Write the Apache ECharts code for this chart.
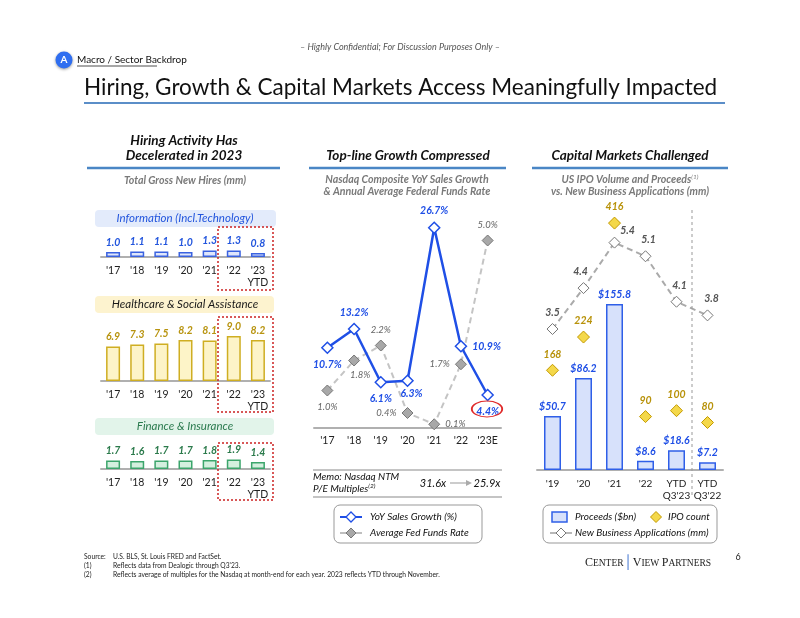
<!DOCTYPE html>
<html><head><meta charset="utf-8">
<script src="https://cdn.jsdelivr.net/npm/echarts@6/dist/echarts.min.js"></script>
<style>html,body{margin:0;padding:0;background:#fff}#c{width:800px;height:618px}</style>
</head><body><div id="c"></div>
<script>
// ---------- DATA ----------
const hireYears = ["'17", "'18", "'19", "'20", "'21", "'22", "'23\nYTD"];
const infoHires = [1.0, 1.1, 1.1, 1.0, 1.3, 1.3, 0.8];
const healthHires = [6.9, 7.3, 7.5, 8.2, 8.1, 9.0, 8.2];
const financeHires = [1.7, 1.6, 1.7, 1.7, 1.8, 1.9, 1.4];

const growthYears = ["'17", "'18", "'19", "'20", "'21", "'22", "'23E"];
const salesGrowth = [10.7, 13.2, 6.1, 6.3, 26.7, 10.9, 4.4];
const fedFunds = [1.0, 1.8, 2.2, 0.4, 0.1, 1.7, 5.0];
const peMultiples = ['31.6x', '25.9x'];

const ipoYears = ["'19", "'20", "'21", "'22", "YTD\nQ3'23", "YTD\nQ3'22"];
const ipoProceeds = [50.7, 86.2, 155.8, 8.6, 18.6, 7.2];
const ipoCount = [168, 224, 416, 90, 100, 80];
const newBizApps = [3.5, 4.4, 5.4, 5.1, 4.1, 3.8];

// ---------- STYLE ----------
const F = 'Lato, "Open Sans", sans-serif';
const BLUE = '#1f4fe6';
const chart = echarts.init(document.getElementById('c'), null, {renderer: 'canvas'});

function T(x, y, text, o) {
  o = o || {};
  return {type: 'text', x: x, y: y, z: 50, style: Object.assign({
    text: text, fontFamily: F, fontSize: 10, fill: '#222',
    textAlign: 'left', textVerticalAlign: 'middle'
  }, o)};
}
function L(x1, y1, x2, y2, st) {
  return {type: 'line', z: 40, shape: {x1: x1, y1: y1, x2: x2, y2: y2},
    style: Object.assign({stroke: '#999', lineWidth: 1}, st)};
}
function R(x, y, w, h, st, r) {
  return {type: 'rect', z: 30, shape: {x: x, y: y, width: w, height: h, r: r || 0}, style: st};
}
function D(cx, cy, s, st) {
  return {type: 'polygon', z: 45, shape: {points: [[cx, cy - s], [cx + s, cy], [cx, cy + s], [cx - s, cy]]}, style: st};
}

const xCat = (data, gi, margin, fs) => ({
  type: 'category', gridIndex: gi, data: data,
  axisLine: {lineStyle: {color: '#b0b0b0', width: 2}},
  axisTick: {show: false},
  axisLabel: {fontFamily: F, fontSize: fs || 10.5, color: '#222', margin: margin, lineHeight: 12, interval: 0}
});
const yHid = (gi, min, max) => ({type: 'value', gridIndex: gi, min: min, max: max, show: false});

const hireBar = (data, gi, fill, border, lab) => ({
  type: 'bar', xAxisIndex: gi, yAxisIndex: gi, data: data, barWidth: 14,
  itemStyle: {color: fill, borderColor: border, borderWidth: 1.5},
  label: {show: true, position: 'top', distance: 4, color: lab, fontFamily: F,
    fontSize: 10.5, fontWeight: 'bold', fontStyle: 'italic',
    formatter: p => p.value.toFixed(1)}
});

const LB = (pos, off) => ({position: pos, offset: off || [0, 0]});
const salesLab = [LB('bottom'), LB('top'), LB('bottom'), LB('bottom', [4, -4]), LB('top'), LB('right'), LB('bottom')];
const fedLab = [LB('bottom'), LB('bottom', [6, -2]), LB('top'), LB('left'), LB('right'), LB('left'), LB('top')];
const appsLab = [LB('top'), LB('top', [-3, 0]), LB('top', [13, 4]), LB('top', [3, 0]), LB('top', [3, 0]), LB('top', [4, 0])];

const g = [];
// header
g.push(T(400, 47, '– Highly Confidential; For Discussion Purposes Only –', {fontSize: 9, fontStyle: 'italic', fill: '#555', textAlign: 'center'}));
g.push({type: 'circle', z: 50, shape: {cx: 64, cy: 60, r: 8.5}, style: {fill: '#2f6ef0', shadowBlur: 3, shadowColor: 'rgba(0,0,0,0.4)', shadowOffsetY: 1}});
g.push(T(64, 60, 'A', {fontSize: 10, fontWeight: 'bold', fill: '#fff', textAlign: 'center'}));
g.push(T(77, 60, 'Macro / Sector Backdrop', {fontSize: 10, fill: '#111'}));
g.push(L(77, 66, 157, 66, {stroke: '#222', lineWidth: 0.8}));
g.push(T(84, 88, 'Hiring, Growth & Capital Markets Access Meaningfully Impacted', {fontSize: 22.5, fill: '#111'}));
g.push(L(84, 103, 725, 103, {stroke: '#5b8ec8', lineWidth: 2}));

// panel headings
const head = {fontSize: 13.5, fontWeight: 'bold', fontStyle: 'italic', fill: '#111', textAlign: 'center'};
const sub = {fontSize: 10.6, fontWeight: 'bold', fontStyle: 'italic', fill: '#7a7a7a', textAlign: 'center'};
g.push(T(184, 141, 'Hiring Activity Has', head));
g.push(T(184, 156, 'Decelerated in 2023', head));
g.push(L(87, 168, 280, 168, {stroke: '#4a86c5', lineWidth: 2.5}));
g.push(T(185, 181, 'Total Gross New Hires (mm)', sub));

g.push(T(408, 156, 'Top-line Growth Compressed', head));
g.push(L(309, 168, 506, 168, {stroke: '#4a86c5', lineWidth: 2.5}));
g.push(T(407, 180, 'Nasdaq Composite YoY Sales Growth', sub));
g.push(T(407, 192, '& Annual Average Federal Funds Rate', sub));

g.push(T(630, 156, 'Capital Markets Challenged', head));
g.push(L(532, 168, 728, 168, {stroke: '#4a86c5', lineWidth: 2.5}));
g.push(T(630, 180, '{a|US IPO Volume and Proceeds}{s|(1)}', Object.assign({}, sub, {rich: {
  a: {fontFamily: F, fontSize: 10.6, fontWeight: 'bold', fontStyle: 'italic', fill: '#7a7a7a'},
  s: {fontFamily: F, fontSize: 6.5, fontStyle: 'italic', fill: '#7a7a7a', padding: [0, 0, 6, 0]}}})));
g.push(T(630, 192, 'vs. New Business Applications (mm)', sub));

// hiring section boxes
g.push(R(95, 210, 181, 17, {fill: '#e3ebfb'}, 4));
g.push(T(185, 218.5, 'Information (Incl.Technology)', {fontSize: 11.5, fontStyle: 'italic', fill: '#2255dd', textAlign: 'center'}));
g.push(R(95, 296, 179, 17, {fill: '#fdf3cf'}, 4));
g.push(T(185, 304.5, 'Healthcare & Social Assistance', {fontSize: 11.5, fontStyle: 'italic', fill: '#1a1a1a', textAlign: 'center'}));
g.push(R(95, 418, 179, 17, {fill: '#e2f4ea'}, 4));
g.push(T(185, 426.5, 'Finance & Insurance', {fontSize: 11.5, fontStyle: 'italic', fill: '#2a7a4e', textAlign: 'center'}));
const redBox = {fill: 'none', stroke: '#cc2222', lineWidth: 1.5, lineDash: [2, 2]};
g.push(R(218, 227, 55, 63, redBox));
g.push(R(218, 317, 55, 95, redBox));
g.push(R(218, 443, 55, 57, redBox));

// red ellipse around latest growth value
g.push({type: 'circle', z: 50, x: 487, y: 409, scaleX: 1.9, shape: {cx: 0, cy: 0, r: 8}, style: {fill: 'none', stroke: '#e02a2a', lineWidth: 1}});

// memo
g.push(L(313, 470, 502, 470, {stroke: '#b0b0b0', lineWidth: 1.5}));
g.push(L(313, 497, 502, 497, {stroke: '#b0b0b0', lineWidth: 1.5}));
g.push(T(313, 477, 'Memo: Nasdaq NTM', {fontSize: 10, fontStyle: 'italic', fill: '#111'}));
g.push(T(313, 489, '{a|P/E Multiples}{s|(2)}', {fontSize: 10, fontStyle: 'italic', fill: '#111', rich: {
  a: {fontFamily: F, fontSize: 10, fontStyle: 'italic', fill: '#111'},
  s: {fontFamily: F, fontSize: 6.5, fontStyle: 'italic', fill: '#111', padding: [0, 0, 6, 0]}}}));
g.push(T(433, 483, peMultiples[0], {fontSize: 11, fontStyle: 'italic', fill: '#111', textAlign: 'center'}));
g.push(L(450, 483, 466, 483, {stroke: '#aaa', lineWidth: 1.2}));
g.push({type: 'polygon', z: 45, shape: {points: [[466, 480], [472, 483], [466, 486]]}, style: {fill: '#aaa'}});
g.push(T(487, 483, peMultiples[1], {fontSize: 11, fontStyle: 'italic', fill: '#111', textAlign: 'center'}));

// legend middle
g.push(R(334, 505, 148, 38, {fill: '#fff', stroke: '#999', lineWidth: 1}, 6));
g.push(L(340, 517, 362, 517, {stroke: BLUE, lineWidth: 2}));
g.push(D(351, 517, 5, {fill: '#fff', stroke: BLUE, lineWidth: 1.3}));
g.push(T(370, 517, 'YoY Sales Growth (%)', {fontSize: 10, fontStyle: 'italic', fill: '#111'}));
g.push(L(340, 533, 362, 533, {stroke: '#aaa', lineWidth: 1.5}));
g.push(D(351, 533, 5, {fill: '#a8a8a8', stroke: '#777', lineWidth: 1}));
g.push(T(370, 533, 'Average Fed Funds Rate', {fontSize: 10, fontStyle: 'italic', fill: '#111'}));

// legend right
g.push(R(543, 505, 174, 38, {fill: '#fff', stroke: '#999', lineWidth: 1}, 6));
g.push(R(552, 512, 15, 10, {fill: '#d7e1fb', stroke: '#2f5fe8', lineWidth: 1.5}));
g.push(T(575, 517, 'Proceeds ($bn)', {fontSize: 10, fontStyle: 'italic', fill: '#111'}));
g.push(D(656, 517, 5.5, {fill: '#f4d84a', stroke: '#c49a00', lineWidth: 1}));
g.push(T(668, 517, 'IPO count', {fontSize: 10, fontStyle: 'italic', fill: '#111'}));
g.push(L(550, 533, 572, 533, {stroke: '#888', lineWidth: 1.2}));
g.push(D(561, 533, 5, {fill: '#fff', stroke: '#777', lineWidth: 1}));
g.push(T(575, 533, 'New Business Applications (mm)', {fontSize: 10, fontStyle: 'italic', fill: '#111'}));

// separator in IPO chart
g.push(L(692, 210, 692, 497, {stroke: '#999', lineWidth: 1, lineDash: [3, 3]}));

// footer
const fn = {fontSize: 6.7, fill: '#222'};
g.push(T(84, 557, 'Source:', fn));
g.push(T(113, 557, 'U.S. BLS, St. Louis FRED and FactSet.', fn));
g.push(T(84, 566, '(1)', fn));
g.push(T(113, 566, "Reflects data from Dealogic through Q3'23.", fn));
g.push(T(84, 575, '(2)', fn));
g.push(T(113, 575, 'Reflects average of multiples for the Nasdaq at month-end for each year. 2023 reflects YTD through November.', fn));
g.push(T(648, 563, '{b|C}{s|ENTER}{v|│}{b|V}{s|IEW }{b|P}{s|ARTNERS}', {textAlign: 'center', rich: {
  b: {fontFamily: '"Liberation Serif", serif', fontSize: 12, fill: '#222'},
  s: {fontFamily: '"Liberation Serif", serif', fontSize: 9.5, fill: '#222'},
  v: {fontFamily: '"Liberation Serif", serif', fontSize: 13, fill: '#3a6fd0'}}}));
g.push(T(738, 557, '6', {fontSize: 9, fill: '#222', textAlign: 'center'}));

const option = {
  animation: false,
  backgroundColor: '#fff',
  grid: [
    {left: 101, width: 169, top: 237, height: 20},
    {left: 101, width: 169, top: 331, height: 50},
    {left: 101, width: 169, top: 449, height: 20},
    {left: 314, width: 187, top: 203, height: 225},
    {left: 537, width: 186, top: 203.5, height: 266.5}
  ],
  xAxis: [
    xCat(hireYears, 0, 8), xCat(hireYears, 1, 8), xCat(hireYears, 2, 8),
    xCat(growthYears, 3, 7), xCat(ipoYears, 4, 8, 10)
  ],
  yAxis: [
    yHid(0, 0, 4), yHid(1, 0, 10), yHid(2, 0, 4),
    yHid(3, 0, 30), yHid(3, 0, 6),
    yHid(4, 0, 250), yHid(4, 0, 449), yHid(4, 0.4, 6.26)
  ],
  series: [
    hireBar(infoHires, 0, '#dfe6fb', '#3a62e0', '#2255dd'),
    hireBar(healthHires, 1, '#fdf4c8', '#cfae22', '#b89410'),
    hireBar(financeHires, 2, '#d4f0df', '#3ca56c', '#2b7a4b'),
    {
      type: 'line', xAxisIndex: 3, yAxisIndex: 4, z: 3,
      data: fedFunds.map((v, i) => ({value: v, label: fedLab[i]})),
      lineStyle: {color: '#c4c4c4', width: 2, type: [6, 4]},
      symbol: 'diamond', symbolSize: 11,
      itemStyle: {color: '#a8a8a8', borderColor: '#777', borderWidth: 1},
      label: {show: true, color: '#666', fontFamily: F, fontSize: 9.5, fontStyle: 'italic',
        formatter: p => p.value.toFixed(1) + '%'}
    },
    {
      type: 'line', xAxisIndex: 3, yAxisIndex: 3, z: 4,
      data: salesGrowth.map((v, i) => ({value: v, label: salesLab[i]})),
      lineStyle: {color: BLUE, width: 2.5},
      symbol: 'diamond', symbolSize: 11,
      itemStyle: {color: '#fff', borderColor: BLUE, borderWidth: 1.5},
      label: {show: true, color: BLUE, fontFamily: F, fontSize: 10.5, fontWeight: 'bold', fontStyle: 'italic',
        formatter: p => p.value.toFixed(1) + '%'}
    },
    {
      type: 'bar', xAxisIndex: 4, yAxisIndex: 5, data: ipoProceeds, barWidth: 17,
      itemStyle: {color: '#d7e1fb', borderColor: '#2f5fe8', borderWidth: 1.5},
      label: {show: true, position: 'top', distance: 4, color: BLUE, fontFamily: F, fontSize: 10.5,
        fontWeight: 'bold', fontStyle: 'italic', formatter: p => '$' + p.value.toFixed(1)}
    },
    {
      type: 'scatter', xAxisIndex: 4, yAxisIndex: 6, data: ipoCount, z: 4,
      symbol: 'diamond', symbolSize: 12,
      itemStyle: {color: '#f4d84a', borderColor: '#c49a00', borderWidth: 1, opacity: 1},
      label: {show: true, position: 'top', distance: 4, color: '#b8920a', fontFamily: F, fontSize: 10.5,
        fontWeight: 'bold', fontStyle: 'italic'}
    },
    {
      type: 'line', xAxisIndex: 4, yAxisIndex: 7, z: 5,
      data: newBizApps.map((v, i) => ({value: v, label: appsLab[i]})),
      lineStyle: {color: '#aaa', width: 2, type: [6, 4]},
      symbol: 'diamond', symbolSize: 11,
      itemStyle: {color: '#fff', borderColor: '#777', borderWidth: 1},
      label: {show: true, color: '#555', fontFamily: F, fontSize: 10.5, fontWeight: 'bold', fontStyle: 'italic',
        formatter: p => p.value.toFixed(1)}
    }
  ],
  graphic: g
};
chart.setOption(option);
</script></body></html>
